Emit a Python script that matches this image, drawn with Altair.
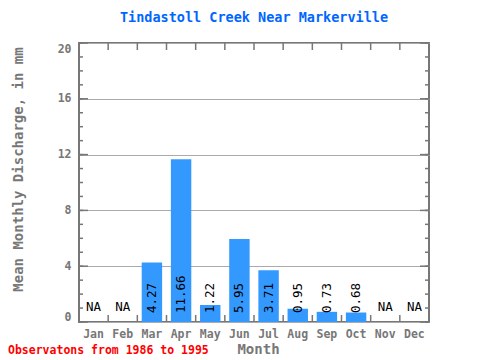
import altair as alt
import pandas as pd

months = ["Jan", "Feb", "Mar", "Apr", "May", "Jun", "Jul", "Aug", "Sep", "Oct", "Nov", "Dec"]
discharge = [None, None, 4.27, 11.66, 1.22, 5.95, 3.71, 0.95, 0.73, 0.68, None, None]
y_major = [0, 4, 8, 12, 16, 20]
y_minor = list(range(0, 21))
title_text = "Tindastoll Creek Near Markerville"
footer_text = "Observatons from 1986 to 1995"
x_title = "Month"
y_title = "Mean Monthly Discharge, in mm"

W, H = 350, 279
MONO = "DejaVu Sans Mono"
GRAY = "#777777"

df = pd.DataFrame({"month": months, "value": discharge})
df["label"] = [("%.2f" % v) if v is not None else "NA" for v in discharge]
df["zero"] = 0

x_scale = alt.Scale(domain=months, paddingInner=0, paddingOuter=0)
y_scale = alt.Scale(domain=[0, 20], nice=False, zero=True)

x_axis = alt.Axis(
    orient="bottom", title=x_title, labelAngle=0, ticks=False, tickSize=0, domain=False,
    grid=False, labelPadding=6, labelFont=MONO, labelFontSize=11.5, labelFontWeight="bold",
    labelColor=GRAY, titleFont=MONO, titleFontSize=14, titleFontWeight="bold",
    titleColor=GRAY, titleX=179, titleY=27, titleAlign="center", titleBaseline="middle",
)
y_axis = alt.Axis(
    orient="left", values=y_major, title=y_title, ticks=False, tickSize=0, domain=False,
    grid=True, gridColor="#aaaaaa", gridWidth=1,
    labelPadding=8, labelFlush=True, labelFont=MONO, labelFontSize=11.5,
    labelFontWeight="bold", labelColor=GRAY, titleFont=MONO, titleFontSize=14,
    titleFontWeight="bold", titleColor=GRAY, titleX=-61, titleY=126, titleAngle=270,
    titleAlign="center", titleBaseline="middle",
)

X = lambda f, **kw: alt.X(f, scale=x_scale, sort=months, axis=x_axis, **kw)
Y = lambda f: alt.Y(f, scale=y_scale, axis=y_axis)

bars = alt.Chart(df).mark_bar(
    color="#3399ff", width=alt.RelativeBandSize(0.7)
).encode(x=X("month:N"), y=Y("value:Q"))

val_labels = alt.Chart(df).transform_filter("isValid(datum.value)").mark_text(
    angle=270, align="left", baseline="middle", dx=9, font=MONO, fontSize=12.5, color="black"
).encode(x=X("month:N"), y=Y("zero:Q"), text="label:N")

na_labels = alt.Chart(df).transform_filter("!isValid(datum.value)").mark_text(
    align="center", baseline="bottom", dy=-8, font=MONO, fontSize=12.5, color="black"
).encode(x=X("month:N"), y=Y("zero:Q"), text="label:N")

minor_df = pd.DataFrame({"t": y_minor})
major_df = pd.DataFrame({"t": y_major})
bound_df = pd.DataFrame({"m": months})

def yticks(data, x0, x1):
    return alt.Chart(data).mark_rule(color=GRAY, strokeWidth=1.5).encode(
        y=Y("t:Q"), x=alt.value(x0), x2=alt.value(x1)
    )

def xticks(y0, y1):
    return alt.Chart(bound_df).mark_rule(color=GRAY, strokeWidth=1.5).encode(
        x=X("m:N", bandPosition=0), y=alt.value(y0), y2=alt.value(y1)
    )

footer = alt.Chart(pd.DataFrame({"f": [footer_text]})).mark_text(
    align="left", baseline="middle", color="#ff0000", fontWeight="bold",
    fontSize=11.5, font=MONO
).encode(x=alt.value(-71), y=alt.value(308), text="f:N")

chart = alt.layer(
    bars, val_labels, na_labels,
    yticks(minor_df, 0, 4), yticks(minor_df, W - 4, W),
    yticks(major_df, 0, 9), yticks(major_df, W - 9, W),
    xticks(0, 7), xticks(H - 7, H),
    footer,
).properties(
    width=W, height=H, background="white",
    title=alt.TitleParams(title_text, font=MONO, fontSize=13.5, fontWeight="bold",
                          color="#0066ff", anchor="middle", frame="group", offset=18),
    autosize=alt.AutoSizeParams(type="none"),
    padding={"left": 71, "top": 35, "right": 43, "bottom": 34},
).configure_view(
    stroke=GRAY, strokeWidth=2
)

chart.save("out.html", embed_options={"renderer": "svg", "actions": False})
